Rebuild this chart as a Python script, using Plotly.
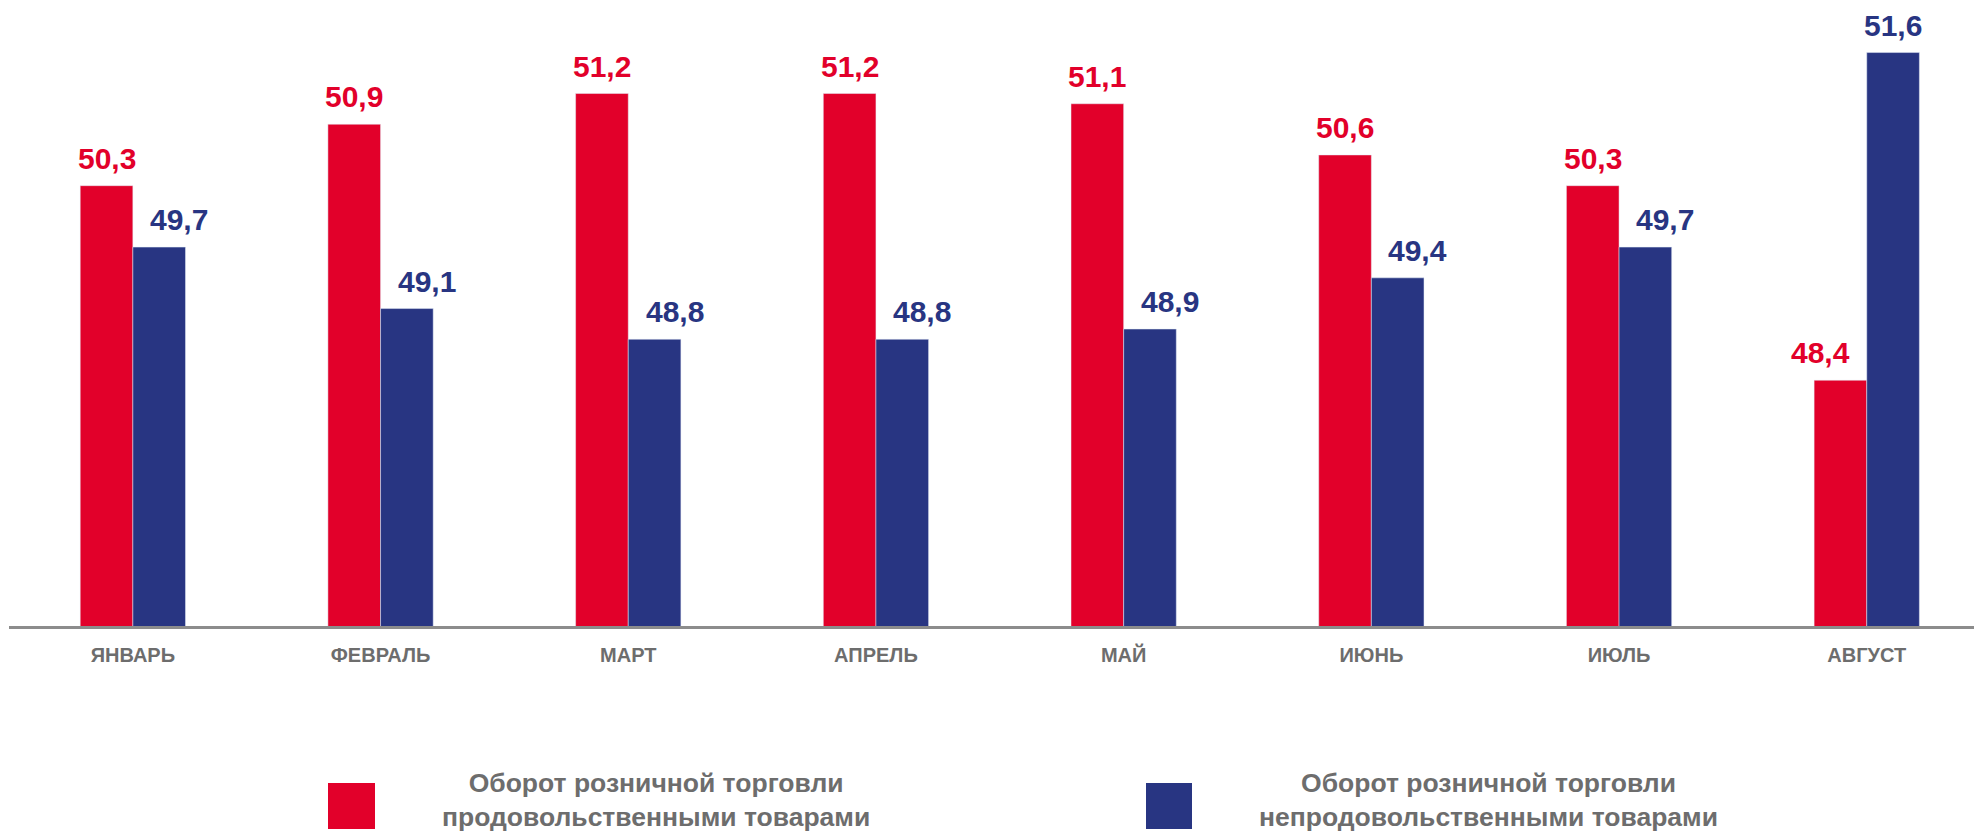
import plotly.graph_objects as go

months = ["ЯНВАРЬ", "ФЕВРАЛЬ", "МАРТ", "АПРЕЛЬ", "МАЙ", "ИЮНЬ", "ИЮЛЬ", "АВГУСТ"]
food = [50.3, 50.9, 51.2, 51.2, 51.1, 50.6, 50.3, 48.4]
nonfood = [49.7, 49.1, 48.8, 48.8, 48.9, 49.4, 49.7, 51.6]
series_names = ["Оборот розничной торговли<br>продовольственными товарами",
                "Оборот розничной торговли<br>непродовольственными товарами"]

RED = "#E2002A"
BLUE = "#283582"
GRAY_TXT = "#6d6d6d"
FONT = "Liberation Sans, Arial, sans-serif"

W, H = 1974, 831
ML, MR, MT, MB = 9, 0, 20, 205
BARGAP = 0.575

fig = go.Figure()
fig.add_trace(go.Bar(x=list(range(len(months))), y=food, marker_color=RED,
                     name=series_names[0], showlegend=False, hoverinfo="y"))
fig.add_trace(go.Bar(x=list(range(len(months))), y=nonfood, marker_color=BLUE,
                     name=series_names[1], showlegend=False, hoverinfo="y"))

def fmt(v):
    return f"{v:.1f}".replace(".", ",")

off = (1 - BARGAP) / 4
annotations = []
for i, (a, b) in enumerate(zip(food, nonfood)):
    shift_a = 0 if a >= b else -20
    shift_b = 0 if b >= a else 20
    annotations.append(dict(x=i - off, y=a, xref="x", yref="y", text=fmt(a),
                            showarrow=False, yanchor="bottom", xshift=shift_a, yshift=9,
                            font=dict(family=FONT, size=30, color=RED, weight="bold")))
    annotations.append(dict(x=i + off, y=b, xref="x", yref="y", text=fmt(b),
                            showarrow=False, yanchor="bottom", xshift=shift_b, yshift=9,
                            font=dict(family=FONT, size=30, color=BLUE, weight="bold")))

# custom legend (large swatches)
pw = W - ML - MR
ph = H - MT - MB
def px_x(px):
    return (px - ML) / pw
def px_y(py):
    return (H - MB - py) / ph

shapes = []
legend_items = [(RED, 328, 375, 656), (BLUE, 1146, 1192, 1488)]
for (col, x0, x1, tc), name in zip(legend_items, series_names):
    shapes.append(dict(type="rect", xref="paper", yref="paper",
                       x0=px_x(x0), x1=px_x(x1), y0=px_y(829), y1=px_y(783),
                       fillcolor=col, line=dict(width=0)))
    annotations.append(dict(x=px_x(tc), y=px_y(800), xref="paper", yref="paper",
                            text=name, showarrow=False, xanchor="center", yanchor="middle",
                            align="center",
                            font=dict(family=FONT, size=26.5, color=GRAY_TXT, weight="bold")))

fig.update_layout(
    width=W, height=H,
    margin=dict(l=ML, r=MR, t=MT, b=MB, pad=0),
    paper_bgcolor="white", plot_bgcolor="white",
    barmode="group", bargap=BARGAP, bargroupgap=0,
    xaxis=dict(range=[-0.5, (W - ML - MR) / 247.7 - 0.5],
               tickmode="array", tickvals=list(range(len(months))), ticktext=months,
               showline=True, linecolor="#8c8c8c", linewidth=3,
               showgrid=False, zeroline=False, ticks="", ticklabelstandoff=9,
               tickfont=dict(family=FONT, size=20, color=GRAY_TXT, weight="bold"),
               fixedrange=True),
    yaxis=dict(range=[46, 46 + (H - MT - MB) / 102.4], visible=False,
               showgrid=False, zeroline=False, fixedrange=True),
    annotations=annotations,
    shapes=shapes,
)

fig.write_html("out.html", config={"displayModeBar": False},
               post_script="document.body.style.margin='0';document.body.style.overflow='hidden';")
